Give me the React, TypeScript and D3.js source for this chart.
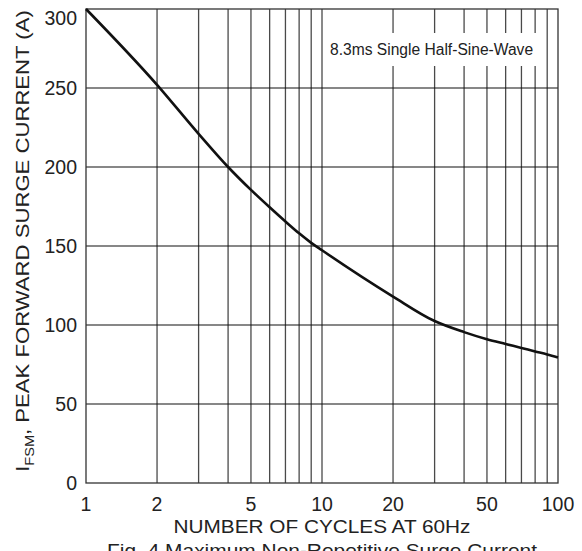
import * as d3 from "d3";

// surge curve
const cycles = [1, 2, 3, 4, 5, 6, 7, 8, 9, 10, 20, 30, 40, 50, 60, 70, 80, 90, 100];
const surgeAmps = [300, 252, 221, 200, 185.5, 174.5, 165.5, 158, 152, 147.3, 118, 102.5, 95.5, 91, 88, 85.5, 83.3, 81.4, 79.5];

const yTicks = [0, 50, 100, 150, 200, 250, 300];
const xTickLabels = [1, 2, 5, 10, 20, 50, 100];
const xGridLines = [2, 3, 4, 5, 6, 7, 8, 9, 10, 20, 30, 40, 50, 60, 70, 80, 90];

const legendText = "8.3ms Single Half-Sine-Wave";
const xTitle = "NUMBER OF CYCLES AT 60Hz";
const caption = "Fig. 4 Maximum Non-Repetitive Surge Current";

const W = 582;
const H = 551;
const plot = { left: 86, right: 558, top: 9, bottom: 483 };
const font = "'Liberation Sans', Arial, sans-serif";

const App = () => {
  const x = d3.scaleLog().domain([1, 100]).range([plot.left, plot.right]);
  const y = d3.scaleLinear().domain([0, 300]).range([plot.bottom, plot.top]);

  const pts = cycles.map((c, i) => [c, surgeAmps[i]] as [number, number]);
  const line = d3
    .line<[number, number]>()
    .x(d => x(d[0]))
    .y(d => y(d[1]))
    .curve(d3.curveMonotoneX);

  return (
    <svg
      width={W}
      height={H}
      style={{ position: "absolute", left: 0, top: 0, background: "#fff" }}
      fontFamily={font}
    >
      <rect x={0} y={0} width={W} height={H} fill="#fff" />

      {/* vertical grid */}
      {xGridLines.map(v => (
        <line key={"v" + v} x1={x(v)} x2={x(v)} y1={plot.top} y2={plot.bottom} stroke="#4a4a4a" strokeWidth={1.3} />
      ))}
      {/* horizontal grid */}
      {yTicks.slice(1, -1).map(v => (
        <line key={"h" + v} x1={plot.left} x2={plot.right} y1={y(v)} y2={y(v)} stroke="#111" strokeWidth={1.2} />
      ))}

      {/* legend box */}
      <rect x={325} y={33} width={214} height={33} fill="#fff" />
      <text x={330} y={55} fontSize={15.6} fill="#222">
        {legendText}
      </text>

      {/* frame */}
      <rect
        x={plot.left}
        y={plot.top}
        width={plot.right - plot.left}
        height={plot.bottom - plot.top}
        fill="none"
        stroke="#333"
        strokeWidth={1.3}
      />

      <path d={line(pts) ?? ""} fill="none" stroke="#111" strokeWidth={2.6} />

      {/* y tick labels */}
      {yTicks.map(v => (
        <text
          key={"yl" + v}
          x={77}
          y={Math.max(y(v), 18)}
          dy="0.36em"
          textAnchor="end"
          fontSize={19.5}
          fill="#222"
        >
          {v}
        </text>
      ))}

      {/* x tick labels */}
      {xTickLabels.map(v => (
        <text key={"xl" + v} x={x(v)} y={511} textAnchor="middle" fontSize={19.5} fill="#222">
          {v}
        </text>
      ))}

      {/* y title */}
      <text
        transform={`translate(29,241) rotate(-90) scale(1.165,1)`}
        textAnchor="middle"
        fontSize={19}
        fill="#222"
      >
        I<tspan fontSize={12.5} dy={5}>FSM</tspan>
        <tspan dy={-5}>, PEAK FORWARD SURGE CURRENT (A)</tspan>
      </text>

      <text x={322} y={533} textAnchor="middle" fontSize={18.5} textLength={297} lengthAdjust="spacingAndGlyphs" fill="#222">
        {xTitle}
      </text>
      <text x={322} y={557} textAnchor="middle" fontSize={18.5} textLength={430} lengthAdjust="spacingAndGlyphs" fill="#222">
        {caption}
      </text>
    </svg>
  );
};

export default App;
